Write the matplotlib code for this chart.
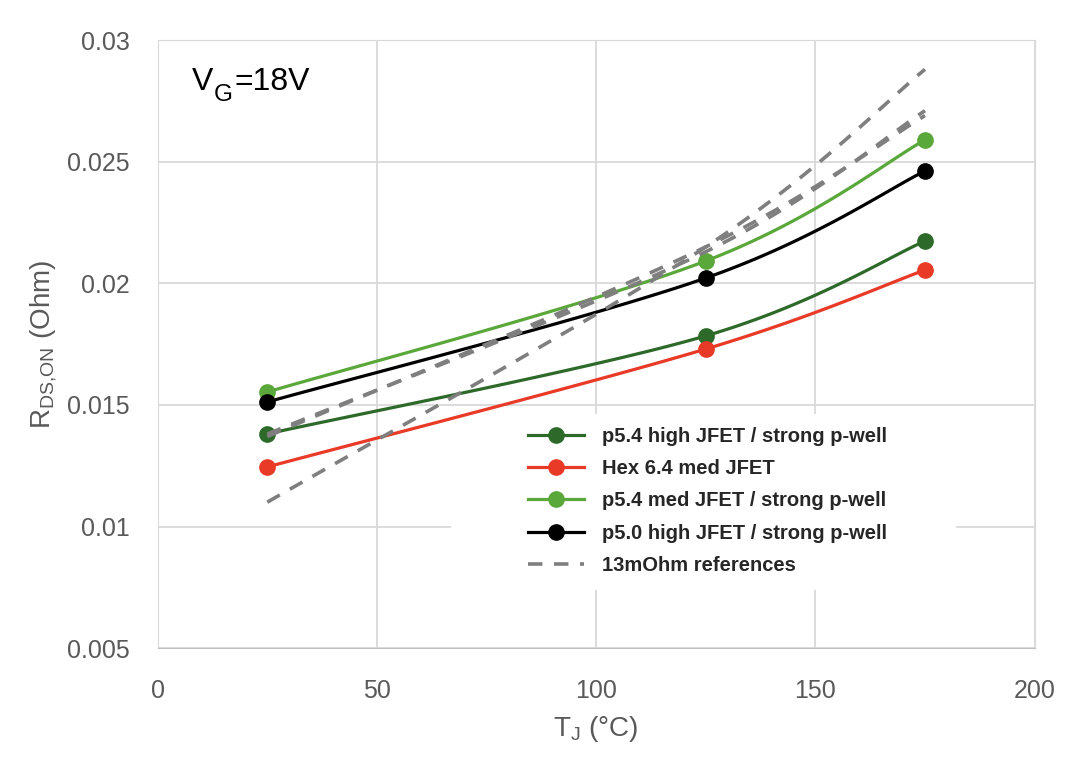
import numpy as np
import matplotlib.pyplot as plt
from matplotlib.patches import Rectangle

# data
tj = [25, 125, 175]
p54_high = [0.01381, 0.01784, 0.02174]
hex64_med = [0.01245, 0.01730, 0.02055]
p54_med = [0.01553, 0.02092, 0.02590]
p50_high = [0.01512, 0.02022, 0.02462]
ref_a = [0.01100, 0.02150, 0.02880]
ref_b = [0.01380, 0.02130, 0.02710]
ref_c = [0.01370, 0.02150, 0.02690]

labels = ['p5.4 high JFET / strong p-well', 'Hex 6.4 med JFET',
          'p5.4 med JFET / strong p-well', 'p5.0 high JFET / strong p-well',
          '13mOhm references']


def smooth(x, y, n=40):
    # Excel-like smoothed line (Catmull-Rom as cubic bezier)
    p = np.column_stack([x, y]).astype(float)
    out = [p[:1]]
    for i in range(len(p) - 1):
        p0 = p[max(i - 1, 0)]
        p1, p2 = p[i], p[i + 1]
        p3 = p[min(i + 2, len(p) - 1)]
        c1 = p1 + (p2 - p0) / 6
        c2 = p2 - (p3 - p1) / 6
        t = np.linspace(0, 1, n)[1:, None]
        seg = (1 - t)**3 * p1 + 3 * (1 - t)**2 * t * c1 + 3 * (1 - t) * t**2 * c2 + t**3 * p2
        out.append(seg)
    out = np.vstack(out)
    return out[:, 0], out[:, 1]


plt.rcParams['font.family'] = ['Liberation Sans', 'DejaVu Sans']
fig = plt.figure(figsize=(10.8, 7.58), dpi=100)
ax = fig.add_axes([0.146, 0.145, 0.812, 0.802])

grey = '#7f7f7f'
handles = []
for ys, col in [(p54_high, '#2d6a2a'), (hex64_med, '#e83a26'),
                (p54_med, '#5aa73a'), (p50_high, '#000000')]:
    sx, sy = smooth(tj, ys)
    ax.plot(sx, sy, color=col, lw=2.3, zorder=3)
    ax.plot(tj, ys, 'o', color=col, ms=11, zorder=4)
    h, = ax.plot([], [], '-o', color=col, lw=2.3, ms=11)
    handles.append(h)

for ys in [ref_a, ref_b, ref_c]:
    sx, sy = smooth(tj, ys)
    ax.plot(sx, sy, '--', color=grey, lw=2.6, dashes=(4, 3.2), zorder=5)
h, = ax.plot([], [], '--', color=grey, lw=2.6, dashes=(4, 3.2))
handles.append(h)

ax.set_xlim(0, 200)
ax.set_ylim(0.005, 0.03)
ax.set_xticks([0, 50, 100, 150, 200])
ax.set_yticks([0.005, 0.01, 0.015, 0.02, 0.025, 0.03])
ax.set_yticklabels(['0.005', '0.01', '0.015', '0.02', '0.025', '0.03'])
ax.grid(True, color='#d9d9d9', lw=1.3)
ax.set_axisbelow(True)
for s in ['top', 'right', 'left']:
    ax.spines[s].set_color('#d9d9d9')
ax.spines['bottom'].set_color('#bfbfbf')
ax.tick_params(axis='both', length=0, labelsize=18, labelcolor='#595959')
ax.tick_params(axis='y', pad=20)
ax.tick_params(axis='x', pad=22)

ax.set_xlabel('T$_\\mathregular{J}$ (°C)', fontsize=20, color='#595959', labelpad=8)
ax.set_ylabel('R$_\\mathregular{DS{,}ON}$ (Ohm)', fontsize=20, color='#595959', labelpad=5)

# V_G=18V annotation with a large subscript, pieces placed one after another
fig.canvas.draw()
rend = fig.canvas.get_renderer()
x0, yc = 0.039, 0.931
pieces = [('V', 23, 0.0), ('G', 17.5, -0.022), ('=18V', 23, 0.0)]
for s, fs, dy in pieces:
    t = ax.text(x0, yc + dy, s, transform=ax.transAxes, fontsize=fs,
                va='center', ha='left')
    bb = t.get_window_extent(rend)
    x0 = ax.transAxes.inverted().transform((bb.x1, bb.y0))[0] + 0.001

# white legend area covering the grid
ax.add_patch(Rectangle((0.335, 0.095), 0.575, 0.29, transform=ax.transAxes,
                       facecolor='white', edgecolor='none', zorder=2))

leg = ax.legend(handles, labels, loc='center left', bbox_to_anchor=(0.411, 0.242),
                frameon=False, borderpad=0, numpoints=1, handlelength=2.75,
                handletextpad=0.9, prop={'weight': 'bold', 'size': 14.5},
                labelspacing=0.66)
leg.set_zorder(6)
for t in leg.get_texts():
    t.set_color('#262626')

fig.savefig('out.png', dpi=100)
